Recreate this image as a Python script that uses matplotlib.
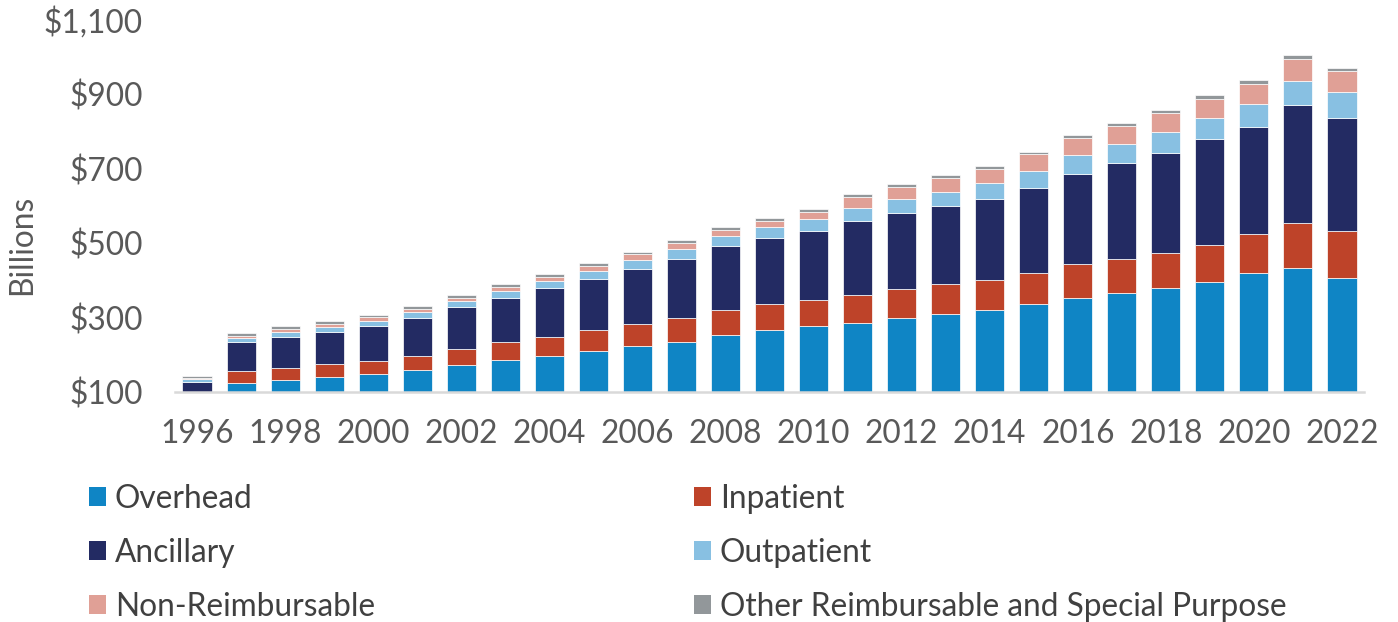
import matplotlib
matplotlib.use('Agg')
import matplotlib.pyplot as plt
import numpy as np
from matplotlib.ticker import FuncFormatter
from matplotlib.patches import Patch

plt.rcParams['font.family'] = ['Lato', 'DejaVu Sans']

# --- datos (miles de millones) ---
years = list(range(1996, 2023))
overhead = [45, 125.8, 133.8, 141.0, 148.3, 159.0, 172.5, 185.9, 198.3, 210.0,
            223.5, 235.8, 253.0, 266.4, 277.2, 285.2, 300.3, 311.0, 320.0, 336.2,
            354.0, 365.8, 379.2, 395.3, 419.5, 434.5, 407.6]
inpatient = [25, 31.4, 32.2, 34.2, 35.7, 39.3, 43.7, 48.3, 51.0, 56.4,
             59.1, 64.5, 68.7, 69.8, 69.8, 76.0, 77.0, 78.9, 80.7, 84.1,
             89.6, 91.2, 94.8, 100.1, 104.7, 120.0, 124.6]
ancillary = [58.5, 78.6, 83.3, 87.5, 94.8, 102.0, 112.0, 119.8, 131.5, 137.8,
             149.2, 158.4, 171.9, 178.8, 186.8, 197.9, 204.9, 211.1, 217.3, 229.0,
             243.2, 257.8, 269.2, 283.6, 288.8, 316.0, 305.0]
outpatient = [6.5, 10.8, 13.4, 13.3, 13.4, 16.1, 16.1, 17.1, 18.0, 22.2,
              24.2, 26.8, 26.8, 29.6, 31.4, 34.9, 36.7, 37.5, 43.0, 45.7,
              49.4, 52.6, 56.4, 58.2, 61.8, 66.0, 69.8]
non_reimb = [4.5, 5.4, 7.3, 8.0, 9.1, 8.0, 8.9, 11.6, 11.5, 13.5,
             14.5, 14.5, 16.1, 16.1, 18.0, 30.3, 33.1, 37.6, 38.5, 44.0,
             47.3, 48.3, 50.4, 50.2, 53.7, 58.3, 54.7]
other = [4.5, 8.0, 7.2, 7.4, 6.2, 6.5, 7.2, 8.0, 8.1, 7.2,
         6.1, 8.0, 7.3, 7.3, 8.1, 7.2, 7.2, 8.1, 7.2, 6.1,
         8.0, 8.1, 8.0, 10.0, 9.1, 10.7, 8.9]

series = [
    ('Overhead', overhead, '#0F85C5'),
    ('Inpatient', inpatient, '#BE4329'),
    ('Ancillary', ancillary, '#232B63'),
    ('Outpatient', outpatient, '#88C0E2'),
    ('Non-Reimbursable', non_reimb, '#E0A096'),
    ('Other Reimbursable and Special Purpose', other, '#92979A'),
]

W, H = 1398, 622
FS = 22.8
fig = plt.figure(figsize=(W / 100, H / 100), dpi=100)
ax = fig.add_axes([175 / W, 1 - 392.3 / H, (1364 - 175) / W, (392.3 - 19.8) / H])

x = np.arange(len(years))
bottom = np.zeros(len(years))
for name, vals, color in series:
    vals = np.array(vals)
    ax.bar(x, vals, bottom=bottom, width=0.66, color=color,
           edgecolor='white', linewidth=0.5, label=name, zorder=2)
    bottom += vals

ax.set_xlim(-0.5, len(years) - 0.5)
ax.set_ylim(100, 1100)
ax.set_yticks(range(100, 1101, 200))
ax.yaxis.set_major_formatter(FuncFormatter(lambda v, p: '${:,.0f}'.format(v)))
ax.set_xticks(x[::2])
ax.set_xticklabels([str(y) for y in years[::2]])

for s in ['top', 'right', 'left']:
    ax.spines[s].set_visible(False)
ax.spines['bottom'].set_color('#D9D9D9')
ax.spines['bottom'].set_linewidth(1.8)
ax.spines['bottom'].set_zorder(3)
ax.tick_params(axis='both', length=0, labelsize=FS, colors='#595959')
ax.tick_params(axis='y', pad=23)
ax.tick_params(axis='x', pad=19)

fig.text(22 / W, 1 - 245 / H, 'Billions', rotation=90, ha='center', va='center',
         fontsize=FS, color='#595959')

# leyenda en dos columnas
handles = [Patch(facecolor=c, edgecolor='none') for _, _, c in series]
labels = [n for n, _, _ in series]
legend_kw = dict(frameon=False, loc='upper left', fontsize=FS, handlelength=0.55,
                 handleheight=0.55, handletextpad=0.27, labelspacing=0.75,
                 borderpad=0, borderaxespad=0, labelcolor='#404040')
fig.legend([handles[0], handles[2], handles[4]], [labels[0], labels[2], labels[4]],
           bbox_to_anchor=(89 / W, 1 - 484 / H), **legend_kw)
fig.legend([handles[1], handles[3], handles[5]], [labels[1], labels[3], labels[5]],
           bbox_to_anchor=(694 / W, 1 - 484 / H), **legend_kw)

plt.savefig('out.png', dpi=100)
